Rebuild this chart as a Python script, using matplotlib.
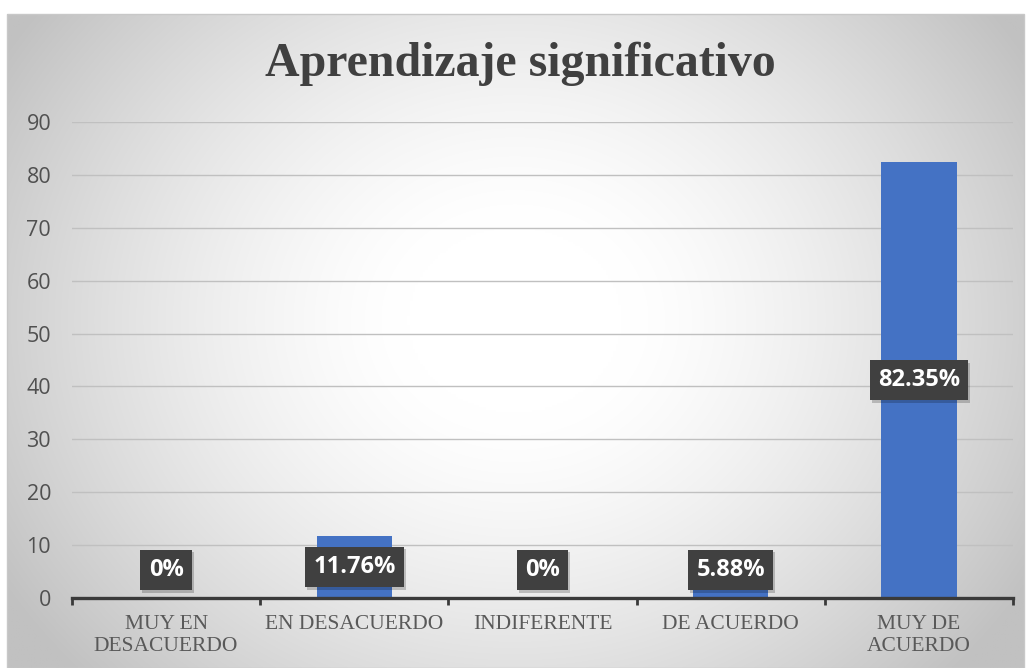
import numpy as np
import matplotlib.pyplot as plt
import matplotlib.patheffects as pe
from matplotlib.patches import Rectangle

# data
categorias = ['MUY EN\nDESACUERDO', 'EN DESACUERDO', 'INDIFERENTE', 'DE ACUERDO', 'MUY DE\nACUERDO']
valores = [0, 11.76, 0, 5.88, 82.35]
etiquetas = ['0%', '11.76%', '0%', '5.88%', '82.35%']
y_ticks = [0, 10, 20, 30, 40, 50, 60, 70, 80, 90]

W, H = 1030, 668
fig = plt.figure(figsize=(W / 100, H / 100), dpi=100)
fig.patch.set_facecolor('white')

# chart area with radial gradient
x0, y0, x1, y1 = 7, 14, 1024, 668
bg = fig.add_axes([x0 / W, 1 - y1 / H, (x1 - x0) / W, (y1 - y0) / H])
xs = np.linspace(x0, x1, 400)
ys = np.linspace(y0, y1, 300)
X, Y = np.meshgrid(xs, ys)
r = np.sqrt(((X - 515) / 600) ** 2 + ((Y - 320) / 520) ** 2)
t = np.clip((r - 0.18) / 0.82, 0, 1)
val = (255 - 62 * t ** 1.4) / 255
img = np.dstack([val, val, val])
bg.imshow(img, extent=[x0, x1, y1, y0], aspect='auto', interpolation='bilinear')
bg.set_xlim(x0, x1)
bg.set_ylim(y1, y0)
bg.axis('off')
fig.add_artist(Rectangle((x0 / W, 0), (x1 - x0) / W, (H - y0) / H, transform=fig.transFigure,
                         fill=False, edgecolor='#c8c8c8', linewidth=1))

ax = fig.add_axes([72 / W, 1 - 598 / H, (1013 - 72) / W, (598 - 122) / H])
ax.patch.set_alpha(0)
pos = np.arange(len(categorias))
ax.bar(pos, valores, width=0.4, color='#4472C4', zorder=3)
ax.set_xlim(-0.5, len(categorias) - 0.5)
ax.set_ylim(0, 90)
ax.set_yticks(y_ticks)
ax.yaxis.grid(True, color='#c0c0c0', linewidth=1)
ax.set_axisbelow(True)
for s in ['top', 'right', 'left']:
    ax.spines[s].set_visible(False)
ax.spines['bottom'].set_color('#3a3a3a')
ax.spines['bottom'].set_linewidth(2.4)
ax.spines['bottom'].set_zorder(4)

ax.set_xticks(pos)
ax.set_xticklabels(categorias, fontfamily='Liberation Serif', fontsize=15.5, color='#595959',
                   linespacing=1.25)
ax.set_xticks(np.arange(len(categorias) + 1) - 0.5, minor=True)
ax.tick_params(axis='x', which='major', length=0, pad=12)
ax.tick_params(axis='x', which='minor', length=5, width=2, color='#3a3a3a', direction='out')
ax.tick_params(axis='y', length=0, pad=15, labelsize=15.5, labelcolor='#505050')
for tl in ax.get_yticklabels():
    tl.set_fontfamily('Open Sans')

for i, (v, lab) in enumerate(zip(valores, etiquetas)):
    ypos = max(v / 2, 5.3)
    txt = ax.text(i, ypos, lab, ha='center', va='center', fontfamily='Open Sans',
                  fontweight='bold', fontsize=17, color='white', zorder=5,
                  bbox=dict(boxstyle='square,pad=0.35', facecolor='#404040', edgecolor='none'))
    txt.get_bbox_patch().set_path_effects([
        pe.SimplePatchShadow(offset=(1.5, -2), shadow_rgbFace='black', alpha=0.2), pe.Normal()])

fig.text(520 / W, 1 - 64 / H, 'Aprendizaje significativo', ha='center', va='center',
         fontfamily='Liberation Serif', fontweight='bold', fontsize=34.5, color='#404040')

fig.savefig('out.png', dpi=100)
